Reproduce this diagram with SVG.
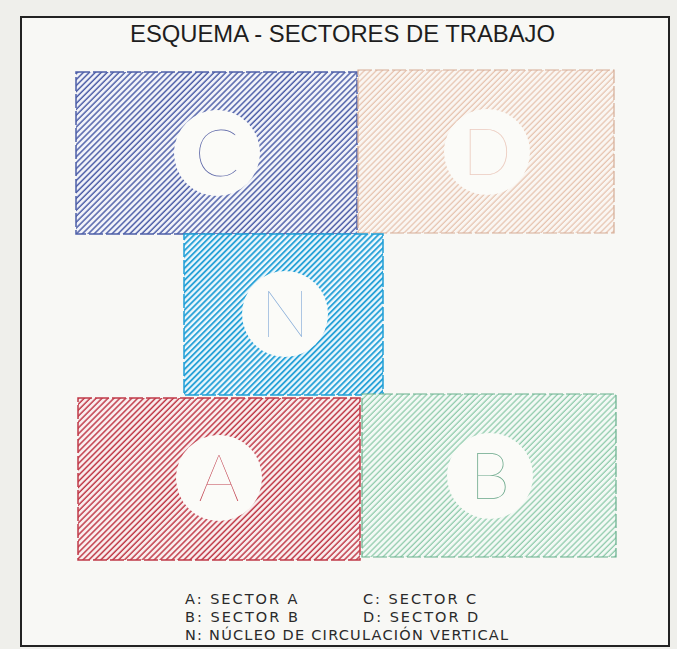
<svg xmlns="http://www.w3.org/2000/svg" width="677" height="649" viewBox="0 0 677 649">
<style>
.title{font-family:"Liberation Sans","DejaVu Sans",sans-serif;font-size:24px;fill:#1e1e1e}
.legend{font-family:"DejaVu Sans","Liberation Sans",sans-serif;font-size:14.5px;fill:#2a2a2a;letter-spacing:2px}
.big{font-family:"Lato","Inter","DejaVu Sans",sans-serif;font-weight:100;font-size:65px;text-anchor:middle}
.hole{fill:#fbfbf8}
</style>
<defs>
<pattern id="hC" width="4.2" height="10" patternUnits="userSpaceOnUse" patternTransform="rotate(45)"><rect width="4.2" height="10" fill="#f4f5fa"/><line x1="1" y1="0" x2="1" y2="10" stroke="#4e5fa8" stroke-width="1.5"/></pattern>
<pattern id="hD" width="4.2" height="10" patternUnits="userSpaceOnUse" patternTransform="rotate(45)"><rect width="4.2" height="10" fill="#faf6f2"/><line x1="1" y1="0" x2="1" y2="10" stroke="#e4bca6" stroke-width="1.1"/></pattern>
<pattern id="hN" width="4.2" height="10" patternUnits="userSpaceOnUse" patternTransform="rotate(45)"><rect width="4.2" height="10" fill="#eef8fc"/><line x1="1" y1="0" x2="1" y2="10" stroke="#1f9ed6" stroke-width="1.8"/></pattern>
<pattern id="hA" width="4.2" height="10" patternUnits="userSpaceOnUse" patternTransform="rotate(45)"><rect width="4.2" height="10" fill="#faf0f0"/><line x1="1" y1="0" x2="1" y2="10" stroke="#c03a48" stroke-width="1.5"/></pattern>
<pattern id="hB" width="4.2" height="10" patternUnits="userSpaceOnUse" patternTransform="rotate(45)"><rect width="4.2" height="10" fill="#f3f9f5"/><line x1="1" y1="0" x2="1" y2="10" stroke="#80c4a0" stroke-width="1.1"/></pattern>
</defs>
<rect x="0" y="0" width="677" height="649" fill="#efefeb"/>
<rect x="21" y="17" width="648" height="629" fill="#f8f8f5" stroke="#222" stroke-width="2"/>
<text class="title" x="130" y="42" textLength="425" lengthAdjust="spacingAndGlyphs">ESQUEMA - SECTORES DE TRABAJO</text>

<g id="sector-C">
<rect x="76" y="72" width="281" height="162" fill="url(#hC)" stroke="#4e5fa8" stroke-width="1.5" stroke-dasharray="14 3"/>
<circle class="hole" cx="217" cy="153" r="43"/>
<text class="big" x="217" y="176" fill="#5a64a6">C</text>
</g>
<g id="sector-D">
<rect x="358" y="70" width="256" height="163" fill="url(#hD)" stroke="#d5ac96" stroke-width="1.2" stroke-dasharray="14 3"/>
<circle class="hole" cx="487" cy="152" r="43"/>
<text class="big" x="487" y="175" fill="#ecccc0">D</text>
</g>
<g id="sector-N">
<rect x="184" y="234" width="199" height="161" fill="url(#hN)" stroke="#1f9ed6" stroke-width="1.5" stroke-dasharray="14 3"/>
<circle class="hole" cx="285" cy="314" r="43"/>
<text class="big" x="285" y="337" fill="#86acd8">N</text>
</g>
<g id="sector-A">
<rect x="78" y="398" width="282" height="162" fill="url(#hA)" stroke="#c03a48" stroke-width="1.5" stroke-dasharray="14 3"/>
<circle class="hole" cx="219" cy="478" r="43"/>
<text class="big" x="219" y="501" fill="#c24452">A</text>
</g>
<g id="sector-B">
<rect x="362" y="394" width="254" height="163" fill="url(#hB)" stroke="#66b08c" stroke-width="1.2" stroke-dasharray="14 3"/>
<circle class="hole" cx="490" cy="476" r="43"/>
<text class="big" x="490" y="499" fill="#6aa88a">B</text>
</g>
<g id="connectors"></g>
<g id="legend">
<text class="legend" x="185" y="604">A: SECTOR A</text>
<text class="legend" x="363" y="604">C: SECTOR C</text>
<text class="legend" x="185" y="622">B: SECTOR B</text>
<text class="legend" x="363" y="622">D: SECTOR D</text>
<text class="legend" x="185" y="640" textLength="325" lengthAdjust="spacing">N: NÚCLEO DE CIRCULACIÓN VERTICAL</text>
</g>
</svg>
